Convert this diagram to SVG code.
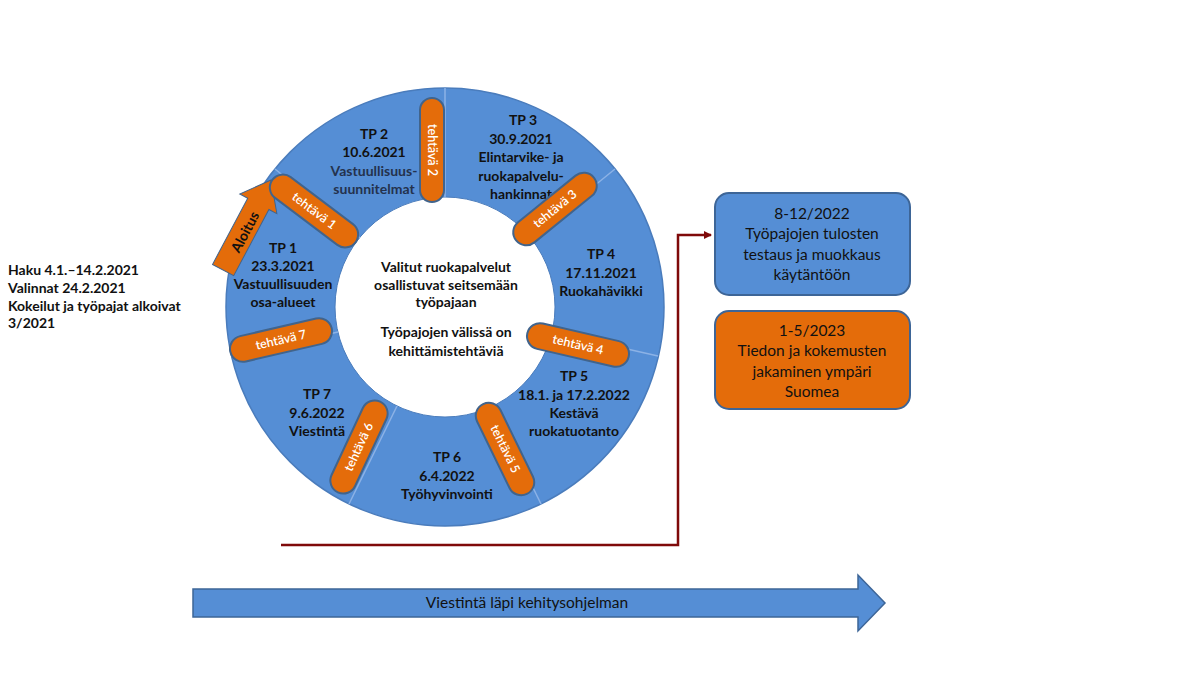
<svg xmlns="http://www.w3.org/2000/svg" width="1200" height="675" viewBox="0 0 1200 675">
<defs>
<style>
.t{font-family:Lato,"Liberation Sans",sans-serif;font-weight:bold;font-size:14px;fill:#111;text-anchor:middle}
.tl{font-family:Lato,"Liberation Sans",sans-serif;font-weight:bold;font-size:14px;fill:#111}
.tn{font-family:Lato,"Liberation Sans",sans-serif;font-weight:bold;font-size:14px;fill:#24324d;text-anchor:middle}
.bx{font-family:Lato,"Liberation Sans",sans-serif;font-size:15.5px;fill:#111;text-anchor:middle}
.cap rect{fill:#e46c0a;stroke:#41648c;stroke-width:2}
.cap text{font-family:Lato,"Liberation Sans",sans-serif;font-size:12.5px;font-weight:600;fill:#fff;text-anchor:middle}
.seg{fill:#558ed5;stroke:#4a7cbc;stroke-width:1}
.div{stroke:#8cb2e6;stroke-width:1.5}
</style>
<marker id="ah" markerWidth="10" markerHeight="10" refX="7" refY="4" orient="auto" markerUnits="userSpaceOnUse">
<path d="M0,0 L8,4 L0,8 Z" fill="#7f0a0a"/>
</marker>
</defs>
<rect width="1200" height="675" fill="#fff"/>

<g id="ring">
<circle cx="445" cy="307" r="219" fill="#558ed5" stroke="#4a7cbc" stroke-width="1.5"/>
<circle cx="445" cy="307" r="110" fill="#fff" stroke="#4a7cbc" stroke-width="1"/>
<line class="div" x1="445" y1="88" x2="445" y2="197"/>
<line class="div" x1="615" y1="169" x2="530" y2="238"/>
<line class="div" x1="658" y1="356" x2="552" y2="332"/>
<line class="div" x1="541" y1="504" x2="493" y2="406"/>
<line class="div" x1="349" y1="504" x2="397" y2="406"/>
<line class="div" x1="231" y1="356" x2="338" y2="332"/>
<line class="div" x1="275" y1="169" x2="360" y2="238"/>
</g>

<g id="aloitus">
<polygon transform="translate(271,180) rotate(-62)" points="0,0 -27,-21 -27,-12 -102,-12 -102,12 -27,12 -27,21" fill="#e46c0a" stroke="#41648c" stroke-width="1"/>
<text class="t" font-size="13" transform="translate(245,232) rotate(-62)" dy="5">Aloitus</text>
</g>

<g id="tp1"><text class="t" x="283" y="253">TP 1</text><text class="t" x="283" y="271">23.3.2021</text><text class="t" x="283" y="289">Vastuullisuuden</text><text class="t" x="283" y="307">osa-alueet</text></g>
<g id="tp2"><text class="t" x="374" y="139">TP 2</text><text class="t" x="374" y="157">10.6.2021</text><text class="tn" x="374" y="176">Vastuullisuus-</text><text class="tn" x="374" y="194">suunnitelmat</text></g>
<g id="tp3"><text class="t" x="523" y="125">TP 3</text><text class="t" x="521" y="144">30.9.2021</text><text class="t" x="521" y="162">Elintarvike- ja</text><text class="t" x="521" y="181">ruokapalvelu-</text><text class="t" x="521" y="199">hankinnat</text></g>
<g id="tp4"><text class="t" x="601" y="259">TP 4</text><text class="t" x="601" y="278">17.11.2021</text><text class="t" x="601" y="296">Ruokahävikki</text></g>
<g id="tp5"><text class="t" x="574" y="381">TP 5</text><text class="t" x="574" y="400">18.1. ja 17.2.2022</text><text class="t" x="574" y="418">Kestävä</text><text class="t" x="574" y="436">ruokatuotanto</text></g>
<g id="tp6"><text class="t" x="447" y="462">TP 6</text><text class="t" x="447" y="481">6.4.2022</text><text class="t" x="447" y="499">Työhyvinvointi</text></g>
<g id="tp7"><text class="t" x="317" y="399">TP 7</text><text class="t" x="317" y="418">9.6.2022</text><text class="t" x="317" y="436">Viestintä</text></g>

<g id="center"><text class="t" x="446" y="272">Valitut ruokapalvelut</text><text class="t" x="446" y="290">osallistuvat seitsemään</text><text class="t" x="446" y="307">työpajaan</text><text class="t" x="446" y="337">Työpajojen välissä on</text><text class="t" x="446" y="356">kehittämistehtäviä</text></g>

<g id="tehtava1" class="cap" transform="translate(314,211) rotate(37)"><rect x="-52" y="-13" width="104" height="26" rx="13"/><text y="4">tehtävä 1</text></g>
<g id="tehtava2" class="cap" transform="translate(432,150) rotate(90)"><rect x="-52" y="-12" width="104" height="24" rx="12"/><text y="4">tehtävä 2</text></g>
<g id="tehtava3" class="cap" transform="translate(555,209) rotate(-39)"><rect x="-50" y="-13" width="100" height="26" rx="13"/><text y="4">tehtävä 3</text></g>
<g id="tehtava4" class="cap" transform="translate(578,345) rotate(13)"><rect x="-52" y="-13" width="104" height="26" rx="13"/><text y="4">tehtävä 4</text></g>
<g id="tehtava5" class="cap" transform="translate(505,449) rotate(64)"><rect x="-50" y="-13" width="100" height="26" rx="13"/><text y="4">tehtävä 5</text></g>
<g id="tehtava6" class="cap" transform="translate(359,447) rotate(-65)"><rect x="-50" y="-13" width="100" height="26" rx="13"/><text y="4">tehtävä 6</text></g>
<g id="tehtava7" class="cap" transform="translate(281,340) rotate(-13)"><rect x="-52" y="-13" width="104" height="26" rx="13"/><text y="4">tehtävä 7</text></g>

<g id="haku"><text class="tl" x="8" y="275">Haku 4.1.–14.2.2021</text><text class="tl" x="8" y="293">Valinnat 24.2.2021</text><text class="tl" x="8" y="311">Kokeilut ja työpajat alkoivat</text><text class="tl" x="8" y="328">3/2021</text></g>

<g id="box1"><rect x="715" y="193" width="195" height="102" rx="14" fill="#558ed5" stroke="#3d6597" stroke-width="2"/><text class="bx" x="812" y="219">8-12/2022</text><text class="bx" x="812" y="239">Työpajojen tulosten</text><text class="bx" x="812" y="260">testaus ja muokkaus</text><text class="bx" x="812" y="280">käytäntöön</text></g>
<g id="box2"><rect x="715" y="311" width="195" height="98" rx="14" fill="#e46c0a" stroke="#3d6597" stroke-width="2"/><text class="bx" x="812" y="336">1-5/2023</text><text class="bx" x="812" y="356">Tiedon ja kokemusten</text><text class="bx" x="812" y="377">jakaminen ympäri</text><text class="bx" x="812" y="397">Suomea</text></g>

<g id="connectors"><polyline points="281,545 678,545 678,235 711,235" fill="none" stroke="#7f0a0a" stroke-width="2.5" marker-end="url(#ah)"/></g>

<g id="viestinta"><polygon points="193,589 858,589 858,575 885,603 858,631 858,617 193,617" fill="#558ed5" stroke="#3d6597" stroke-width="1.5"/><text class="bx" x="527" y="608">Viestintä läpi kehitysohjelman</text></g>
</svg>
